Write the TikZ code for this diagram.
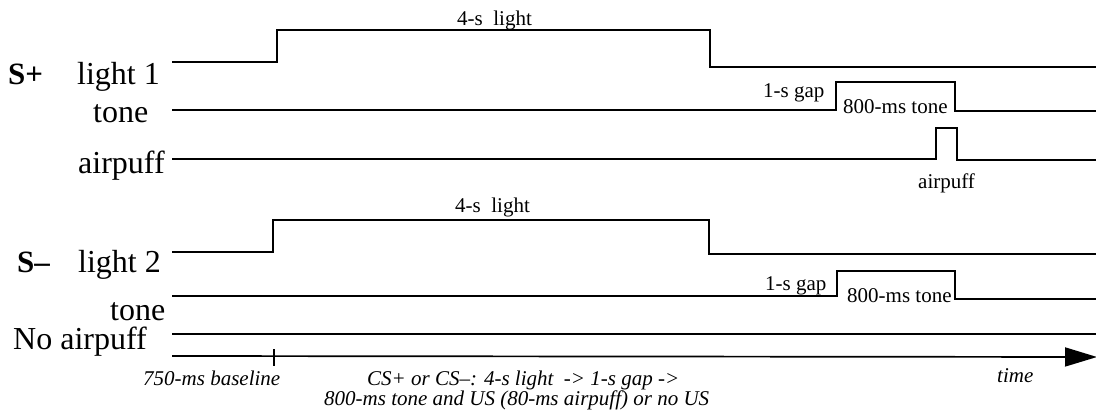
\documentclass[tikz,border=0pt]{standalone}
\usepackage{fontspec}
\setmainfont{Liberation Serif}
\usetikzlibrary{arrows.meta}
\begin{document}
\begin{tikzpicture}[x=1pt,y=-1pt,
  big/.style={font=\fontsize{32}{32}\selectfont, inner sep=0pt, anchor=base west},
  bigb/.style={font=\fontsize{31}{31}\selectfont\bfseries, inner sep=0pt, anchor=base west},
  small/.style={font=\fontsize{21}{21}\selectfont, inner sep=0pt, anchor=base west},
  ital/.style={font=\fontsize{21}{21}\selectfont\itshape, inner sep=0pt, anchor=base west},
  trace/.style={line width=1.7pt, line join=miter}]
\useasboundingbox (0,0) rectangle (1096,415);
% left labels
\node[bigb] (sp) at (8,84) {S+};
\node[big] (l1) at (77,84) {light 1};
\node[big] (t1) at (93,122) {tone};
\node[big] (a1) at (78,173) {airpuff};
\node[bigb] (sm) at (17,272) {S\textendash};
\node[big] (l2) at (78,272) {light 2};
\node[big] (t2) at (110,320) {tone};
\node[big] (na) at (13,349) {No airpuff};
% S+ traces
\draw[trace] (172,62) -- (277,62) -- (277,30) -- (710,30) -- (710,67) -- (1096,67);
\draw[trace] (172,110) -- (836,110) -- (836,82) -- (955,82) -- (955,111) -- (1096,111);
\draw[trace] (172,159) -- (936,159) -- (936,128) -- (957,128) -- (957,160) -- (1096,160);
% S- traces
\draw[trace] (172,252) -- (273,252) -- (273,220) -- (709,220) -- (709,254) -- (1096,254);
\draw[trace] (172,296) -- (837,296) -- (837,271) -- (955,271) -- (955,299) -- (1096,299);
\draw[trace] (172,334) -- (1096,334);
% time axis
\coordinate (ax0) at (172,356);
\coordinate (ax1) at (1097,357);
\draw[trace, -{Triangle[length=32pt,width=19pt]}] (ax0) -- (ax1);
\draw[trace] (274,349) -- (274,366);
% small labels
\node[small] (ls1) at (457,25) {4-s\ \ light};
\node[small] (g1) at (763,97) {1-s gap};
\node[small] (tn1) at (843,113) {800-ms tone};
\node[small] (ap) at (918,188) {airpuff};
\node[small] (ls2) at (455,212) {4-s\ \ light};
\node[small] (g2) at (765,290) {1-s gap};
\node[small] (tn2) at (847,302) {800-ms tone};
% bottom italic
\node[ital] (bl) at (143,385) {750-ms baseline};
\node[ital] (c1) at (367,385) {CS+ or CS\textendash: 4-s light \ -> 1-s gap ->};
\node[ital] (c2) at (324,405) {800-ms tone and US (80-ms airpuff) or no US};
\node[ital] (tm) at (997,382) {time};
\end{tikzpicture}
\end{document}
